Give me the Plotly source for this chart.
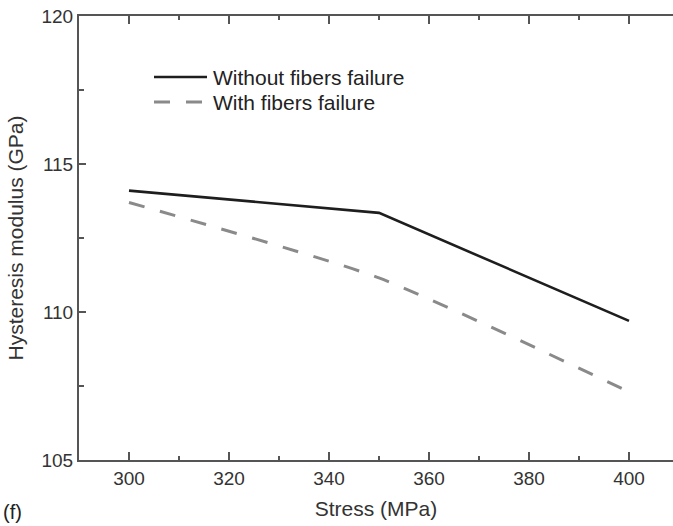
import plotly.graph_objects as go

stress = [300, 350, 400]
without_failure = [114.1, 113.35, 109.7]
with_failure = [113.7, 111.15, 107.3]
series_names = ["Without fibers failure", "With fibers failure"]

FONT = "Liberation Sans, Arial, sans-serif"

fig = go.Figure()
fig.add_trace(go.Scatter(x=stress, y=without_failure, mode="lines", name=series_names[0],
                         line=dict(color="#1e1e1e", width=2.6), showlegend=False))
fig.add_trace(go.Scatter(x=stress, y=with_failure, mode="lines", name=series_names[1],
                         line=dict(color="#8a8a8a", width=3, dash="16px,16px", shape="spline", smoothing=0.6),
                         showlegend=False))

# manual legend
leg_x0, leg_x1 = 154, 207
leg_rows = [77, 102]
styles = [dict(color="#1e1e1e", width=2.6), dict(color="#8a8a8a", width=3, dash="16px,16px")]
W, H = 673, 526
ml, mt, mb = 79, 16, 66
pw, ph = W - ml, H - mt - mb
for name, yy, st in zip(series_names, leg_rows, styles):
    fig.add_shape(type="line", xref="paper", yref="paper",
                  x0=(leg_x0 - ml) / pw, x1=(leg_x1 - ml) / pw,
                  y0=1 - (yy - mt) / ph, y1=1 - (yy - mt) / ph, line=st)
    fig.add_annotation(text=name, xref="paper", yref="paper", x=(211 - ml) / pw,
                       y=1 - (yy - mt) / ph, xanchor="left", yanchor="middle", showarrow=False,
                       font=dict(family=FONT, size=21, color="#222"))

fig.add_annotation(text="(f)", xref="paper", yref="paper", x=(1 - ml) / pw, y=-(512 - mt - ph) / ph,
                   xanchor="left", yanchor="middle", showarrow=False,
                   font=dict(family=FONT, size=20, color="#222"))

axis_common = dict(showline=True, linecolor="#555", linewidth=2, ticks="inside", tickcolor="#555",
                   tickwidth=2, showgrid=False, zeroline=False,
                   tickfont=dict(family=FONT, size=19, color="#333"))

fig.update_layout(
    width=W, height=H, margin=dict(l=ml, r=0, t=mt, b=mb),
    paper_bgcolor="white", plot_bgcolor="white",
    xaxis=dict(range=[290, 408.8], tickvals=[300, 320, 340, 360, 380, 400], ticklen=8,
               minor=dict(tickvals=[310, 330, 350, 370, 390, 410], ticklen=4, ticks="inside",
                          tickcolor="#555", tickwidth=2),
               mirror="ticks",
               title=dict(text="Stress (MPa)", font=dict(family=FONT, size=21, color="#333"), standoff=14),
               **axis_common),
    yaxis=dict(range=[105, 120], tickvals=[105, 110, 115, 120], ticklen=7,
               minor=dict(tickvals=[107.5, 112.5, 117.5], ticklen=5, ticks="inside",
                          tickcolor="#555", tickwidth=2),
               title=dict(text="Hysteresis modulus (GPa)", font=dict(family=FONT, size=21, color="#333"), standoff=12),
               **axis_common),
)

fig.write_html("out.html")
